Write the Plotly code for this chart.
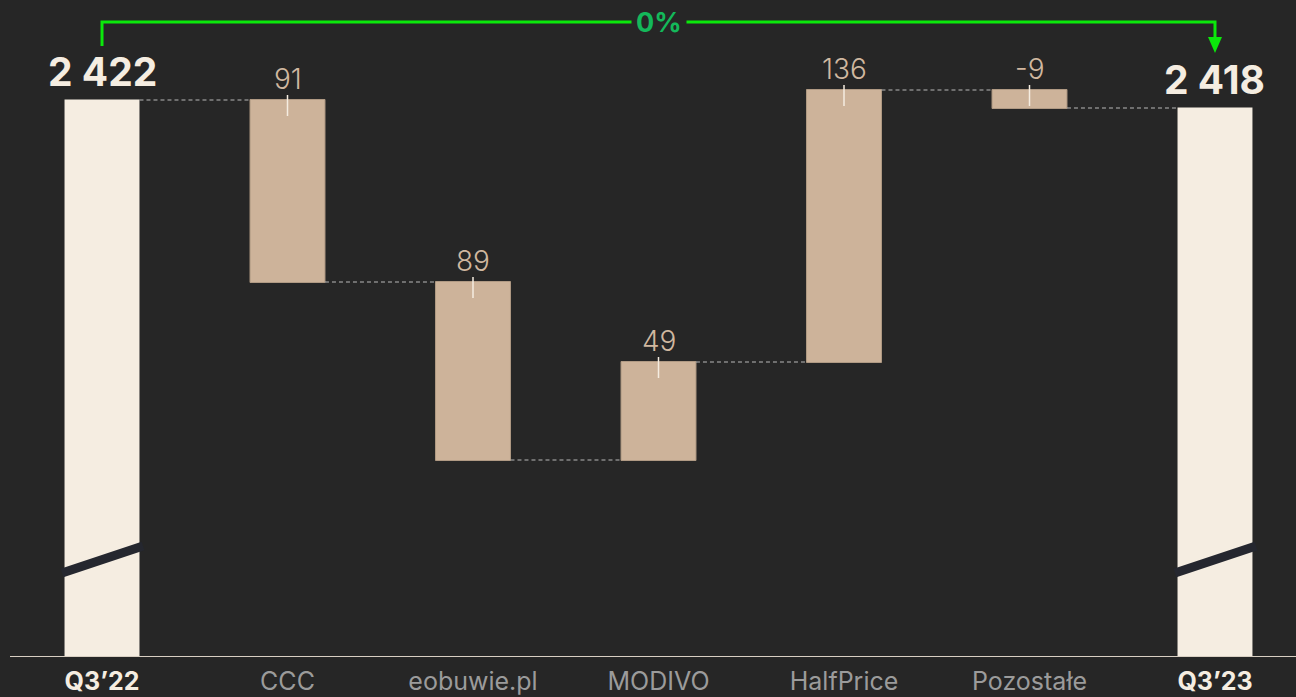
import plotly.graph_objects as go

categories = ["Q3’22", "CCC", "eobuwie.pl", "MODIVO", "HalfPrice", "Pozostałe", "Q3’23"]
measures = ["absolute", "relative", "relative", "relative", "relative", "relative", "total"]
values = [2422, -91, -89, 49, 136, -9, 2418]
labels = ["2 422", "91", "89", "49", "136", "-9", "2 418"]
change_label = "0%"

BG = "#262626"
CREAM = "#f5ede1"
TAN = "#cdb39a"
TAN_TXT = "#d0b8a0"
GREY = "#9b9b9b"
GREEN_LINE = "#0be80b"
GREEN_TXT = "#14b85a"
FONT = "Inter"

Y0, Y1 = 2143.5, 2472.0
XR = [-0.5499, 6.4367]

xs = list(range(len(categories)))

ticktext = []
for i, c in enumerate(categories):
    if measures[i] == "relative":
        ticktext.append(f"<span style='color:{GREY}'>{c}</span>")
    else:
        ticktext.append(f"<b><span style='color:{CREAM}'>{c}</span></b>")

fig = go.Figure()
fig.add_trace(go.Waterfall(
    x=xs, y=values, measure=measures,
    width=0.404,
    increasing=dict(marker=dict(color=TAN, line=dict(color="#b09a84", width=1))),
    decreasing=dict(marker=dict(color=TAN, line=dict(color="#b09a84", width=1))),
    totals=dict(marker=dict(color=CREAM, line=dict(color=CREAM, width=0))),
    connector=dict(mode="between", line=dict(color="#b8b8b8", width=1, dash="4px,3px")),
    base=0,
    hoverinfo="skip",
    showlegend=False,
))

# compute bar tops
run = 0
tops = []
for m, v in zip(measures, values):
    if m == "absolute":
        run = v
        tops.append(v)
    elif m == "total":
        tops.append(run)
    else:
        prev = run
        run = run + v
        tops.append(max(prev, run))

shapes = []
annotations = []
for i, (m, t, lab) in enumerate(zip(measures, tops, labels)):
    if m == "relative":
        annotations.append(dict(x=i, y=t, xref="x", yref="y", text=lab, showarrow=False,
                                yanchor="bottom", yshift=2,
                                font=dict(family=FONT, size=28, color=TAN_TXT, weight=300)))
        shapes.append(dict(type="line", xref="x", yref="y", x0=i, x1=i, y0=t + 2.5, y1=t - 8,
                           line=dict(color=CREAM, width=1.5)))
    else:
        annotations.append(dict(x=i, y=t, xref="x", yref="y", text=f"<b>{lab}</b>", showarrow=False,
                                yanchor="bottom", yshift=3,
                                font=dict(family=FONT, size=39, color=CREAM)))
        # axis break marks
        shapes.append(dict(type="line", xref="x", yref="y", x0=i - 0.2156, x1=i + 0.221,
                           y0=2185.5, y1=2199, line=dict(color="#25272f", width=9)))

# baseline axis line
shapes.append(dict(type="line", xref="paper", yref="y", x0=10 / 1296, x1=1, y0=Y0, y1=Y0,
                   line=dict(color="#d8cfc2", width=2)))

# green bracket
first, last = 0, len(categories) - 1
shapes.append(dict(type="path", xref="x", yref="y",
                   path=f"M {first},2449 L {first},2461 L {last},2461 L {last},2453",
                   line=dict(color=GREEN_LINE, width=3)))
shapes.append(dict(type="path", xref="x", yref="y",
                   path=f"M {last-0.0377},2453.5 L {last+0.0377},2453.5 L {last},2445.5 Z",
                   fillcolor=GREEN_LINE, line=dict(color=GREEN_LINE, width=0)))
annotations.append(dict(x=(first + last) / 2, y=2461, xref="x", yref="y", text=f"<b>{change_label}</b>",
                        showarrow=False, bgcolor=BG, borderpad=4,
                        font=dict(family=FONT, size=27, color=GREEN_TXT)))

fig.update_layout(
    width=1296, height=697,
    paper_bgcolor=BG, plot_bgcolor=BG,
    margin=dict(l=0, r=0, t=0, b=40),
    xaxis=dict(range=XR, tickmode="array", tickvals=xs, ticktext=ticktext,
               showgrid=False, zeroline=False, showline=False, ticks="",
               ticklabelstandoff=7,
               tickfont=dict(family=FONT, size=25, color=GREY)),
    yaxis=dict(range=[Y0, Y1], visible=False, showgrid=False, zeroline=False),
    shapes=shapes,
    annotations=annotations,
    showlegend=False,
)

fig.write_html(
    "out.html",
    config={"displayModeBar": False},
    post_script="document.body.style.margin='0';document.body.style.padding='0';"
                "document.body.style.overflow='hidden';document.body.style.background='#262626';",
)
